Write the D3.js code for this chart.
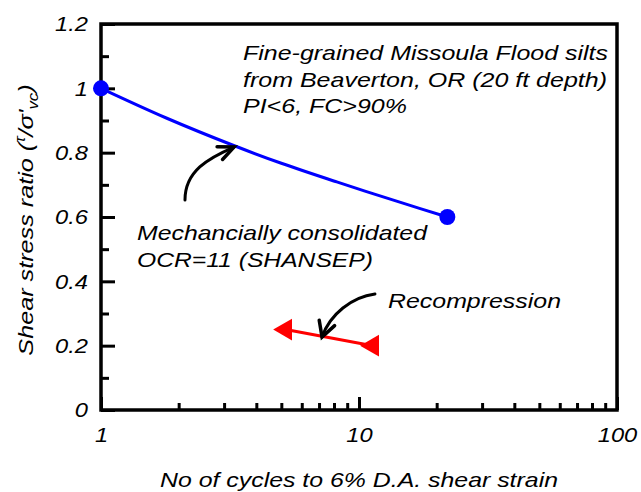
<!DOCTYPE html>
<html><head><meta charset="utf-8">
<script src="https://cdn.jsdelivr.net/npm/d3@7"></script>
<style>
html,body{margin:0;padding:0;background:#fff;}
text{font-family:"Liberation Sans",Arial,sans-serif;font-style:italic;fill:#000;}
</style></head>
<body><svg id="c" width="641" height="492"></svg>
<script>
// ---- data ----
const shansepCycles = [1, 1.8, 3.25, 5, 8.2, 14.8, 22];
const shansepCSR    = [1, 0.907, 0.823, 0.767, 0.709, 0.643, 0.6];
const shansepMarkCycles = [1, 22];
const shansepMarkCSR    = [1, 0.6];
const recompCycles = [5.2, 11.3];
const recompCSR    = [0.25, 0.2];
const xTicks = [1, 10, 100];
const xMinor = [2,3,4,5,6,7,8,9,20,30,40,50,60,70,80,90];
const yTicks = [0, 0.2, 0.4, 0.6, 0.8, 1, 1.2];
const yMinor = [0.1, 0.3, 0.5, 0.7, 0.9, 1.1];
// annotation arrows in data coordinates: start, c1, c2, end
const arrow1 = [[2.116,0.653],[2.116,0.742],[2.6,0.783],[3.28,0.8175]];
const arrow2 = [[11.53,0.3606],[9.4,0.3513],[7.72,0.2984],[7.19,0.2269]];

const svg = d3.select("#c");
const L=101, R=617, T=24, B=410;
const FS = 21, SX = 1.13;
const x = d3.scaleLog().domain([1,100]).range([L,R]);
const y = d3.scaleLinear().domain([0,1.2]).range([B,T]);

// axes
const fmtY = d => String(d);
const gy = svg.append("g").attr("transform",`translate(${L},0)`)
  .call(d3.axisLeft(y).tickValues(yTicks).tickSize(-14).tickSizeOuter(0).tickPadding(13).tickFormat(fmtY));
const gym = svg.append("g").attr("transform",`translate(${L},0)`)
  .call(d3.axisLeft(y).tickValues(yMinor).tickSize(-8).tickSizeOuter(0).tickFormat(""));
const gx = svg.append("g").attr("transform",`translate(0,${B})`)
  .call(d3.axisBottom(x).tickValues(xTicks).tickSize(-13).tickSizeOuter(0).tickPadding(17).tickFormat(d3.format("d")));
const gxm = svg.append("g").attr("transform",`translate(0,${B})`)
  .call(d3.axisBottom(x).tickValues(xMinor).tickSize(-7).tickSizeOuter(0).tickFormat(""));
[gy,gym,gx,gxm].forEach(g=>{
  g.select(".domain").remove();
  g.selectAll("line").attr("stroke","#000").attr("stroke-width",3);
  g.selectAll("text").attr("font-size",FS).attr("font-family",'"Liberation Sans",Arial,sans-serif').attr("font-style","italic");
});
gy.selectAll("text").attr("transform",`translate(-13,0) scale(${SX},1) translate(13,0)`);
gx.selectAll("text").attr("transform",`scale(${SX},1)`);
// frame
svg.append("rect").attr("x",L).attr("y",T).attr("width",R-L).attr("height",B-T)
  .attr("fill","none").attr("stroke","#000").attr("stroke-width",3.5);

// blue curve
const pts = shansepCycles.map((c,i)=>[x(c), y(shansepCSR[i])]);
svg.append("path").attr("d", d3.line().curve(d3.curveCatmullRom.alpha(0.5))(pts))
  .attr("fill","none").attr("stroke","#0000ff").attr("stroke-width",3);
svg.selectAll("circle.m").data(shansepMarkCycles).join("circle")
  .attr("cx",d=>x(d)).attr("cy",(d,i)=>y(shansepMarkCSR[i])).attr("r",8).attr("fill","#0000ff");

// red line
const rpts = recompCycles.map((c,i)=>[x(c), y(recompCSR[i])]);
svg.append("path").attr("d", d3.line()(rpts)).attr("fill","none").attr("stroke","#ff0000").attr("stroke-width",3);
const tri = d3.symbol().type(d3.symbolTriangle).size(205);
svg.selectAll("path.tri").data(rpts).join("path").attr("class","tri")
  .attr("d",tri()).attr("fill","#ff0000")
  .attr("transform",d=>`translate(${d[0]},${d[1]}) rotate(-90)`);

// arrows
function drawArrow(a, len, half){
  const p = a.map(d=>[x(d[0]), y(d[1])]);
  svg.append("path").attr("d",`M${p[0]}C${p[1]} ${p[2]} ${p[3]}`)
    .attr("fill","none").attr("stroke","#000").attr("stroke-width",3).attr("stroke-linecap","round");
  const ang = Math.atan2(p[2][1]-p[3][1], p[2][0]-p[3][0]);
  const w1=[p[3][0]+len*Math.cos(ang+half), p[3][1]+len*Math.sin(ang+half)];
  const w2=[p[3][0]+len*Math.cos(ang-half), p[3][1]+len*Math.sin(ang-half)];
  svg.append("path").attr("d",`M${w1}L${p[3]}L${w2}`).attr("fill","none")
    .attr("stroke","#000").attr("stroke-width",3.5).attr("stroke-linejoin","miter").attr("stroke-linecap","round");
}
drawArrow(arrow1, 17, 0.42);
drawArrow(arrow2, 17, 0.5);

// annotation text (x, baseline y, width in reference)
function label(s, x0, y0, w, anchor){
  svg.append("text").attr("x",x0).attr("y",y0).attr("font-size",FS)
    .attr("text-anchor",anchor||"start")
    .attr("textLength",w).attr("lengthAdjust","spacingAndGlyphs").text(s);
}
label("Fine-grained Missoula Flood silts",243,60,365);
label("from Beaverton, OR (20 ft depth)",243,86.5,364);
label("PI<6, FC>90%",243,113,164);
label("Mechancially consolidated",137,240,290);
label("OCR=11 (SHANSEP)",137,266.5,236);
label("Recompression",388,308,173);
label("No of cycles to 6% D.A. shear strain",160,487,398);

// y axis title
const yl = svg.append("text").attr("transform",`translate(33,220) rotate(-90) scale(1.2,1)`).attr("text-anchor","middle").attr("font-size",FS);
yl.append("tspan").text("Shear stress ratio (");
yl.append("tspan").attr("font-size",14).attr("dy",-8).text("τ");
yl.append("tspan").attr("font-size",FS).attr("dy",8).text("/σ'");
yl.append("tspan").attr("font-size",14).attr("dy",5).text("vc");
yl.append("tspan").attr("font-size",FS).attr("dy",-5).text(")");
</script></body></html>
